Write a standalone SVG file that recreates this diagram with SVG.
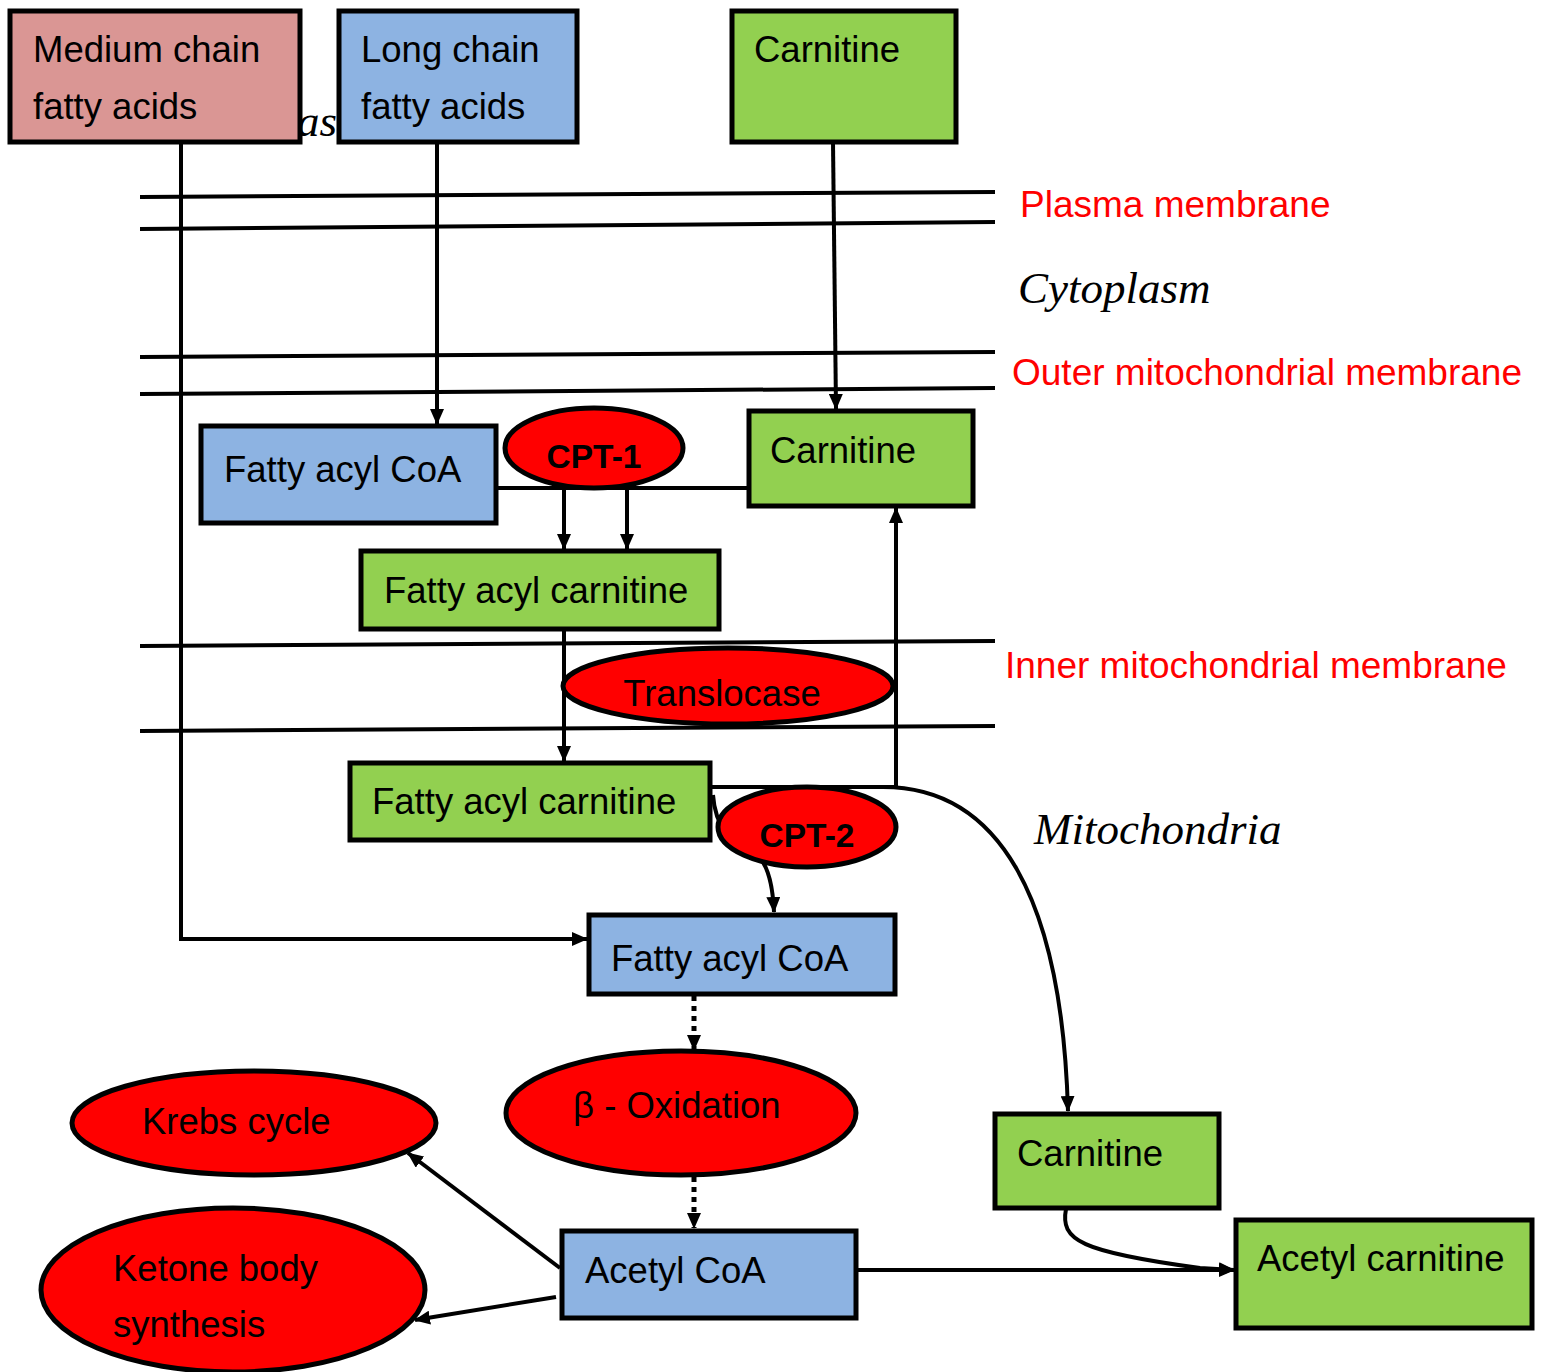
<svg xmlns="http://www.w3.org/2000/svg" width="1542" height="1372" viewBox="0 0 1542 1372">
<defs>
<marker id="ah" viewBox="0 0 16 14" refX="15" refY="7" markerWidth="16" markerHeight="14" markerUnits="userSpaceOnUse" orient="auto">
<path d="M0,0 L16,7 L0,14 z" fill="#000"/>
</marker>
<style>
.box{stroke:#000;stroke-width:5}
.pink{fill:#DA9694}
.blue{fill:#8DB3E2}
.green{fill:#92D050}
.enz{fill:#FF0000;stroke:#000;stroke-width:5}
.t{font-family:"Liberation Sans",Arial,sans-serif;font-size:36.5px;fill:#000}
.b{font-weight:bold;font-size:33.5px}
.red{font-family:"Liberation Sans",Arial,sans-serif;font-size:37px;fill:#FF0000}
.it{font-family:"Liberation Serif","Times New Roman",serif;font-style:italic;font-size:45px;fill:#000}
.mem{stroke:#000;stroke-width:4;fill:none}
.c{stroke:#000;stroke-width:4;fill:none}
.d{stroke:#000;stroke-width:5;fill:none;stroke-dasharray:5 5}
</style>
</defs>
<rect width="1542" height="1372" fill="#fff"/>

<text class="it" x="297" y="136">as</text>

<g id="membranes">
<line class="mem" x1="140" y1="197" x2="995" y2="192"/>
<line class="mem" x1="140" y1="229" x2="995" y2="222"/>
<line class="mem" x1="140" y1="357" x2="995" y2="352"/>
<line class="mem" x1="140" y1="394" x2="995" y2="388"/>
<line class="mem" x1="140" y1="646" x2="995" y2="641"/>
<line class="mem" x1="140" y1="731" x2="995" y2="726"/>
</g>

<g id="labels">
<text class="red" x="1020" y="217">Plasma membrane</text>
<text class="it" x="1018" y="303">Cytoplasm</text>
<text class="red" x="1012" y="385">Outer mitochondrial membrane</text>
<text class="red" x="1005" y="678">Inner mitochondrial membrane</text>
<text class="it" x="1034" y="844">Mitochondria</text>
</g>

<g id="connectors">
<polyline class="c" points="181,142 181,939 587,939" marker-end="url(#ah)"/>
<line class="c" x1="437" y1="142" x2="437" y2="424" marker-end="url(#ah)"/>
<line class="c" x1="833" y1="142" x2="836" y2="409" marker-end="url(#ah)"/>
<line class="c" x1="496" y1="488" x2="749" y2="488"/>
<line class="c" x1="564" y1="488" x2="564" y2="549" marker-end="url(#ah)"/>
<line class="c" x1="627" y1="488" x2="627" y2="549" marker-end="url(#ah)"/>
<line class="c" x1="564" y1="629" x2="564" y2="761" marker-end="url(#ah)"/>
<line class="c" x1="710" y1="787" x2="896" y2="787"/>
<line class="c" x1="896" y1="787" x2="896" y2="508" marker-end="url(#ah)"/>
<path class="c" d="M880,787 C1000,785 1062,900 1068,1111" marker-end="url(#ah)"/>
<path class="c" d="M713,795 C716,840 745,845 760,858 C770,870 773,890 774,912" marker-end="url(#ah)"/>
<line class="d" x1="694" y1="996" x2="694" y2="1050" marker-end="url(#ah)"/>
<line class="d" x1="694" y1="1177" x2="694" y2="1228" marker-end="url(#ah)"/>
<line class="c" x1="560" y1="1268" x2="408" y2="1153" marker-end="url(#ah)"/>
<line class="c" x1="556" y1="1297" x2="415" y2="1320" marker-end="url(#ah)"/>
<line class="c" x1="856" y1="1270" x2="1234" y2="1270" marker-end="url(#ah)"/>
<path class="c" d="M1066,1209 C1060,1240 1080,1252 1200,1268 L1234,1270" marker-end="url(#ah)"/>
</g>

<g id="medium-chain">
<rect class="box pink" x="10" y="11" width="290" height="131"/>
<text class="t" x="33" y="62">Medium chain</text>
<text class="t" x="33" y="119">fatty acids</text>
</g>
<g id="long-chain">
<rect class="box blue" x="339" y="11" width="238" height="131"/>
<text class="t" x="361" y="62">Long chain</text>
<text class="t" x="361" y="119">fatty acids</text>
</g>
<g id="carnitine-top">
<rect class="box green" x="732" y="11" width="224" height="131"/>
<text class="t" x="754" y="62">Carnitine</text>
</g>
<g id="fatty-acyl-coa-1">
<rect class="box blue" x="201" y="426" width="295" height="97"/>
<text class="t" x="224" y="482">Fatty acyl CoA</text>
</g>
<g id="cpt1">
<ellipse class="enz" cx="594" cy="448" rx="89" ry="40"/>
<text class="t b" x="594" y="468" text-anchor="middle">CPT-1</text>
</g>
<g id="carnitine-2">
<rect class="box green" x="749" y="411" width="224" height="95"/>
<text class="t" x="770" y="463">Carnitine</text>
</g>
<g id="fatty-acyl-carnitine-1">
<rect class="box green" x="361" y="551" width="358" height="78"/>
<text class="t" x="384" y="603">Fatty acyl carnitine</text>
</g>
<g id="translocase">
<ellipse class="enz" cx="728" cy="686" rx="165" ry="38"/>
<text class="t" x="722" y="706" text-anchor="middle">Translocase</text>
</g>
<g id="fatty-acyl-carnitine-2">
<rect class="box green" x="350" y="763" width="360" height="77"/>
<text class="t" x="372" y="814">Fatty acyl carnitine</text>
</g>
<g id="cpt2">
<ellipse class="enz" cx="807" cy="827" rx="89" ry="40"/>
<text class="t b" x="807" y="847" text-anchor="middle">CPT-2</text>
</g>
<g id="fatty-acyl-coa-2">
<rect class="box blue" x="589" y="915" width="306" height="79"/>
<text class="t" x="611" y="971">Fatty acyl CoA</text>
</g>
<g id="beta-oxidation">
<ellipse class="enz" cx="681" cy="1113" rx="175" ry="62"/>
<text class="t" x="573" y="1118">β - Oxidation</text>
</g>
<g id="krebs">
<ellipse class="enz" cx="254" cy="1123" rx="182" ry="52"/>
<text class="t" x="142" y="1134">Krebs cycle</text>
</g>
<g id="ketone">
<ellipse class="enz" cx="233" cy="1290" rx="192" ry="82"/>
<text class="t" x="113" y="1281">Ketone body</text>
<text class="t" x="113" y="1337">synthesis</text>
</g>
<g id="acetyl-coa">
<rect class="box blue" x="562" y="1231" width="294" height="87"/>
<text class="t" x="585" y="1283">Acetyl CoA</text>
</g>
<g id="carnitine-3">
<rect class="box green" x="995" y="1114" width="224" height="94"/>
<text class="t" x="1017" y="1166">Carnitine</text>
</g>
<g id="acetyl-carnitine">
<rect class="box green" x="1236" y="1220" width="296" height="108"/>
<text class="t" x="1257" y="1271">Acetyl carnitine</text>
</g>
</svg>
